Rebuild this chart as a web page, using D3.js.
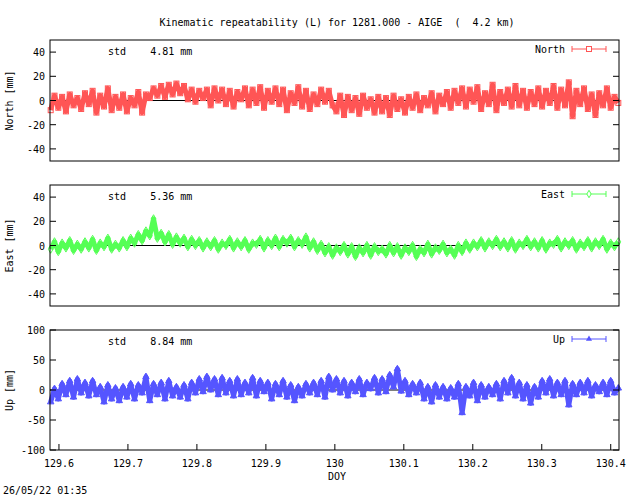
<!DOCTYPE html>
<html><head><meta charset="utf-8">
<script src="https://cdn.jsdelivr.net/npm/d3@7"></script>
<style>body{margin:0;background:#fff}text{font-family:"DejaVu Sans Mono",monospace;font-size:10px}</style>
</head><body><svg id="c" width="640" height="496"></svg>
<script>
const title = "Kinematic repeatability (L) for 1281.000 - AIGE  (  4.2 km)";
const xDomain = [129.587, 130.412];
const xTicks = [129.6,129.7,129.8,129.9,130,130.1,130.2,130.3,130.4];
const names = ["North","East","Up"];
const stds = ["4.81","5.36","8.84"];
const colors = ["#ff5555","#55ff55","#5555ff"];
const yDomains = [[-50,50],[-50,50],[-100,100]];
const yTicks = [[-40,-20,0,20,40],[-40,-20,0,20,40],[-100,-50,0,50,100]];
const north = [-8,4,-6,3,-9,5,-4,2,-7,6,-3,8,-10,4,-5,10,-8,3,-6,5,-9,2,-4,7,-10,5,
2,10,4,12,3,13,5,14,6,12,1,9,
-1,8,2,9,-4,10,0,9,-3,8,-5,7,1,10,-4,9,-2,11,-6,8,-1,10,-3,9,-8,6,-2,11,-5,8,-7,5,-3,9,-1,8,-4,
-9,4,-12,3,-8,2,-11,4,-6,1,-10,3,-9,2,-12,4,-7,1,-10,3,-6,5,-8,2,-4,6,
-9,4,-3,7,-6,8,-2,10,-5,9,-1,11,-7,6,-3,13,-8,7,-2,9,-5,12,-4,8,-6,7,-3,10,-5,8,-2,12,-6,9,-4,15,-13,8,-3,10,-7,5,-12,6,-4,10,-6,3,-2];
const east = [-3,3,-5,2,-2,4,-4,1,-3,3,-2,5,-4,2,-1,6,-3,1,-2,4,-1,6,2,9,4,12,8,22,6,10,
3,9,1,7,2,6,-1,5,0,4,-2,3,-1,4,-3,2,0,5,-2,3,-1,4,-3,2,1,5,-2,4,0,6,
-1,5,2,6,-1,4,1,7,-2,3,-4,1,-6,-1,-8,-2,-5,0,-7,-1,-9,-2,-6,0,-8,-1,-5,-3,-7,0,
-6,-1,-8,-2,-5,0,-9,-3,-6,1,-7,-2,-4,1,-6,-3,-8,0,-5,2,-3,2,-1,4,-2,3,0,5,-1,3,
-2,4,-3,2,0,5,-1,3,-2,4,-3,2,1,5,-2,3,0,4,-3,2,-1,4,-2,3,0,5,-3,2,-1,3];
const up = [-20,2,-15,10,-8,15,-12,18,-5,12,-10,15,-8,5,-20,8,-15,3,-18,5,-12,10,-15,8,-5,22,-18,10,-8,12,
-15,15,-10,5,-12,8,-15,12,-5,18,-3,22,0,18,-8,20,-5,15,-10,18,-8,12,-5,20,-10,15,-3,12,-15,10,
-8,15,-12,8,-18,5,-10,10,-5,12,-8,15,-12,22,0,18,-5,15,-10,12,-3,18,-8,12,2,20,-5,18,-3,25,
5,35,-2,15,-8,10,-5,12,-15,5,-20,8,-12,5,-15,3,-12,10,-38,5,-10,12,-18,8,-12,5,-8,10,-15,15,
-5,20,-10,12,-15,8,-22,5,-12,15,-5,18,-10,12,-8,15,-25,10,-8,12,-5,15,-10,8,-3,12,-8,15,-5,3];
const series = [north, east, up];
const tStart = 129.588, tEnd = 130.411;

const svg = d3.select("#c");
const L=50,R=619;
const panels=[[40,161],[185,306],[330,450]];
const x = d3.scaleLinear().domain(xDomain).range([L,R]);
svg.append("text").attr("x",337).attr("y",26).attr("text-anchor","middle").attr("xml:space","preserve").text(title);

series.forEach((vals,i)=>{
  const [t,b]=panels[i];
  const y=d3.scaleLinear().domain(yDomains[i]).range([b,t]);
  const g=svg.append("g");
  const tx=d3.scaleLinear().domain([0,vals.length-1]).range([tStart,tEnd]);
  g.append("line").attr("x1",L).attr("x2",R).attr("y1",y(0)).attr("y2",y(0)).attr("stroke","#000");
  const pts=vals.map((v,k)=>[x(tx(k)),y(v)]);
  g.append("path").attr("d",d3.line()(pts)).attr("fill","none").attr("stroke",colors[i]).attr("stroke-width",5).attr("stroke-linejoin","round");
  pts.forEach(p=>{
    if(i===0) g.append("rect").attr("x",p[0]-2.5).attr("y",p[1]-2.5).attr("width",5).attr("height",5).attr("fill","none").attr("stroke",colors[i]);
    else if(i===1) g.append("path").attr("d",d3.symbol(d3.symbolDiamond,20)()).attr("transform",`translate(${p})`).attr("fill","none").attr("stroke",colors[i]);
    else g.append("path").attr("d",d3.symbol(d3.symbolTriangle,18)()).attr("transform",`translate(${p})`).attr("fill",colors[i]).attr("stroke",colors[i]);
  });
  g.append("rect").attr("x",L).attr("y",t).attr("width",R-L).attr("height",b-t).attr("fill","none").attr("stroke","#000");
  yTicks[i].forEach(v=>{
    g.append("line").attr("x1",L).attr("x2",L+6).attr("y1",y(v)).attr("y2",y(v)).attr("stroke","#000");
    g.append("line").attr("x1",R).attr("x2",R-6).attr("y1",y(v)).attr("y2",y(v)).attr("stroke","#000");
    g.append("text").attr("x",L-5).attr("y",y(v)+4).attr("text-anchor","end").text(v);
  });
  g.append("text").attr("transform",`translate(13,${(t+b)/2}) rotate(-90)`).attr("text-anchor","middle").text(names[i]+" [mm]");
  g.append("text").attr("x",108).attr("y",t+15).attr("xml:space","preserve").text("std    "+stds[i]+" mm");
  const ly=t+9;
  g.append("text").attr("x",565).attr("y",ly+4).attr("text-anchor","end").text(names[i]);
  g.append("line").attr("x1",572).attr("x2",606).attr("y1",ly).attr("y2",ly).attr("stroke",colors[i]);
  [572,606].forEach(xx=>g.append("line").attr("x1",xx).attr("x2",xx).attr("y1",ly-3).attr("y2",ly+3).attr("stroke",colors[i]));
  if(i===0) g.append("rect").attr("x",586.5).attr("y",ly-2.5).attr("width",5).attr("height",5).attr("fill","#fff").attr("stroke",colors[i]);
  else if(i===1) g.append("path").attr("d",d3.symbol(d3.symbolDiamond,16)()).attr("transform",`translate(589,${ly})`).attr("fill","#fff").attr("stroke",colors[i]);
  else g.append("path").attr("d",d3.symbol(d3.symbolTriangle,16)()).attr("transform",`translate(589,${ly})`).attr("fill",colors[i]);
});
xTicks.forEach(v=>{
  svg.append("line").attr("x1",x(v)).attr("x2",x(v)).attr("y1",450).attr("y2",444).attr("stroke","#000");
  svg.append("text").attr("x",x(v)).attr("y",467).attr("text-anchor","middle").text(v);
});
svg.append("text").attr("x",337).attr("y",480).attr("text-anchor","middle").text("DOY");
svg.append("text").attr("x",3).attr("y",494).text("26/05/22 01:35");
</script></body></html>
